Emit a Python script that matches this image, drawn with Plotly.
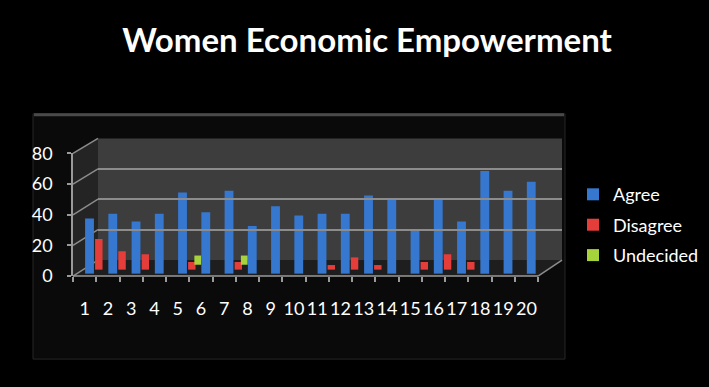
import plotly.graph_objects as go

# ---------------- data ----------------
categories = [str(i) for i in range(1, 21)]
agree = [36, 39, 34, 39, 53, 40, 54, 31, 44, 38, 39, 39, 51, 49, 28, 48, 34, 67, 54, 60]
disagree = [20, 12, 10, 0, 5, 0, 5, 0, 0, 0, 3, 8, 3, 0, 5, 10, 5, 0, 0, 0]
undecided = [0, 0, 0, 0, 6, 0, 6, 0, 0, 0, 0, 0, 0, 0, 0, 0, 0, 0, 0, 0]
y_ticks = [0, 20, 40, 60, 80]

W, H = 709, 387
FONT = "Lato, 'Open Sans', sans-serif"


def px(x):
    return x / W


def py(y):
    return 1 - y / H


# front scale: 0 at 280px, 80 at 150px ; back wall scale: 0 at 263, 80 at 134
def front_y(v):
    return 280 - v * (280 - 150) / 80


def back_y(v):
    return 263 - v * (263 - 134) / 80


fig = go.Figure()

series = [
    ("Agree", agree, "#3678cf", 0.02, 0.38, 1.6),
    ("Disagree", disagree, "#e43d3a", 0.45, 0.32, 4.2),
    ("Undecided", undecided, "#a6d23c", 0.72, 0.29, 7.4),
]
for i, (name, vals, col, off, wid, base) in enumerate(series):
    fig.add_trace(go.Bar(
        x=categories, y=vals, name=name, base=base,
        offset=off, width=wid,
        marker=dict(color=col, line=dict(width=0)),
        legendgroup=name, xaxis="x", yaxis="y",
    ))

# invisible trace to make back-wall subplot exist
fig.add_trace(go.Scatter(x=[0], y=[0], xaxis="x2", yaxis="y2", mode="markers",
                         marker=dict(opacity=0), showlegend=False, hoverinfo="skip"))

shapes = []
# panel
shapes.append(dict(type="rect", xref="paper", yref="paper", x0=px(33), x1=px(565),
                   y0=py(368), y1=py(108), fillcolor="#0a0a0a",
                   line=dict(color="#262626", width=1), layer="below"))
shapes.append(dict(type="line", xref="paper", yref="paper", x0=px(34), x1=px(564),
                   y0=py(109), y1=py(109), line=dict(color="#4a4a4a", width=3), layer="below"))
# back wall
shapes.append(dict(type="rect", xref="paper", yref="paper", x0=px(98), x1=px(562),
                   y0=py(263), y1=py(134), fillcolor="#3d3d3d", line=dict(width=0), layer="below"))
# left wall
shapes.append(dict(type="path", xref="paper", yref="paper",
                   path=f"M{px(73)},{py(150)} L{px(98)},{py(134)} L{px(98)},{py(263)} L{px(73)},{py(280)} Z",
                   fillcolor="#242424", line=dict(width=0), layer="below"))
# floor
shapes.append(dict(type="path", xref="paper", yref="paper",
                   path=f"M{px(73)},{py(280)} L{px(98)},{py(263)} L{px(562)},{py(263)} L{px(538)},{py(280)} Z",
                   fillcolor="#1e1e1e", line=dict(width=0), layer="below"))
# left wall grid slants
for v in y_ticks:
    shapes.append(dict(type="line", xref="paper", yref="paper", x0=px(73), x1=px(98),
                       y0=py(front_y(v)), y1=py(back_y(v)),
                       line=dict(color="#8c8c8c", width=1.5), layer="below"))
# floor front edge and right slant
shapes.append(dict(type="line", xref="paper", yref="paper", x0=px(73), x1=px(538),
                   y0=py(280), y1=py(280), line=dict(color="#9a9a9a", width=1.5), layer="below"))
shapes.append(dict(type="line", xref="paper", yref="paper", x0=px(538), x1=px(562),
                   y0=py(280), y1=py(263), line=dict(color="#8c8c8c", width=1.5), layer="below"))

fig.update_layout(
    width=W, height=H, autosize=False,
    margin=dict(l=0, r=0, t=0, b=0),
    paper_bgcolor="#000000", plot_bgcolor="rgba(0,0,0,0)",
    barmode="overlay",
    font=dict(family=FONT, color="#ffffff", size=18),
    title=dict(text="<b>Women Economic Empowerment</b>", x=px(367), xanchor="center",
               y=py(40), yanchor="middle",
               font=dict(family=FONT, size=33, color="#ffffff")),
    xaxis=dict(domain=[px(73), px(563)], type="category",
               range=[-0.5, 20.575], tickson="boundaries", tickangle=0,
               ticks="outside", ticklen=5, tickcolor="#9a9a9a", tickwidth=1.5,
               showline=False, showgrid=False, zeroline=False,
               tickfont=dict(size=18, color="#ffffff"), ticklabelstandoff=20,
               anchor="y", fixedrange=True),
    yaxis=dict(domain=[py(280), py(150)], range=[0, 80], tickvals=y_ticks,
               ticks="outside", ticklen=4, tickcolor="#9a9a9a", tickwidth=1.5,
               showline=True, linecolor="#9a9a9a", linewidth=1.5,
               showgrid=False, zeroline=False,
               tickfont=dict(size=18, color="#ffffff"), ticklabelstandoff=11,
               anchor="x", fixedrange=True),
    xaxis2=dict(domain=[px(98), px(562)], range=[0, 1], visible=False, anchor="y2"),
    yaxis2=dict(domain=[py(263), py(134)], range=[0, 80], tickvals=y_ticks,
                showticklabels=False, ticks="", showgrid=True, gridcolor="#8c8c8c",
                gridwidth=1.5, zeroline=False, showline=False, anchor="x2"),
    legend=dict(x=px(573), xanchor="left", y=py(174), yanchor="top",
                bgcolor="rgba(0,0,0,0)", font=dict(size=18, color="#ffffff"),
                tracegroupgap=4, itemwidth=30),
    shapes=shapes,
    showlegend=True,
)

fig.write_html("out.html")
